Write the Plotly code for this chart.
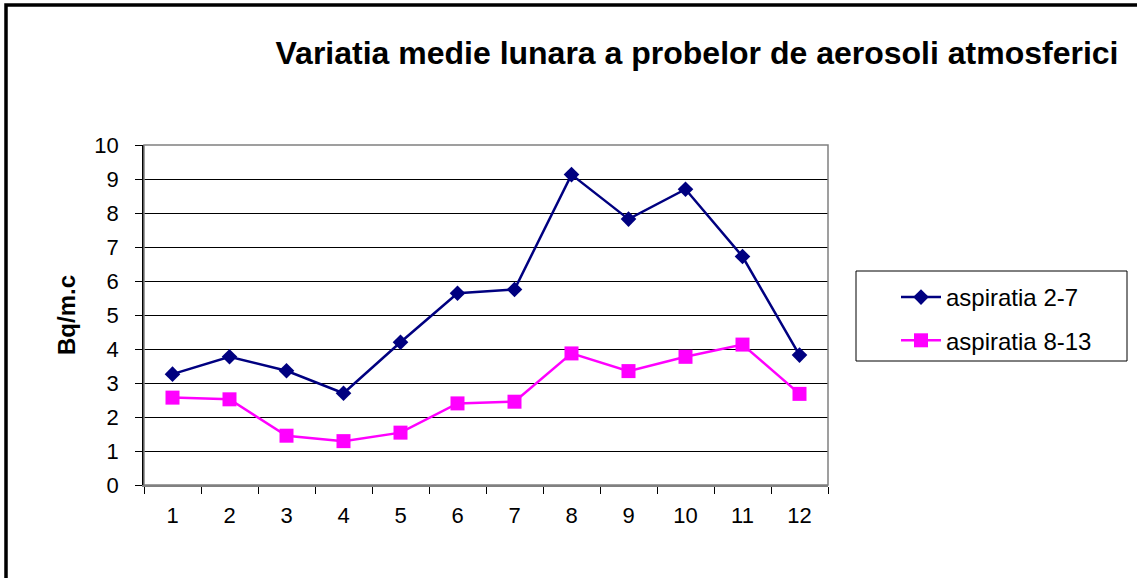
import plotly.graph_objects as go

# Monthly mean values (Bq/m.c)
months = ["1", "2", "3", "4", "5", "6", "7", "8", "9", "10", "11", "12"]
aspiratia_2_7 = [3.26, 3.77, 3.36, 2.70, 4.20, 5.64, 5.75, 9.13, 7.82, 8.70, 6.72, 3.82]
aspiratia_8_13 = [2.57, 2.52, 1.45, 1.29, 1.54, 2.40, 2.45, 3.87, 3.35, 3.77, 4.13, 2.68]

title_text = "Variatia medie lunara a probelor de aerosoli atmosferici"
y_title = "Bq/m.c"

FONT = "Liberation Sans, Arial, sans-serif"
W, H = 1137, 578
L, R, T, B = 144, 828, 145, 485  # plot area in pixels

def px_to_paper_x(px):
    return (px - L) / (R - L)

def px_to_paper_y(py):
    return (B - py) / (B - T)

fig = go.Figure()
fig.add_trace(go.Scatter(
    x=months, y=aspiratia_2_7, name="aspiratia 2-7", mode="lines+markers",
    line=dict(color="#000080", width=2.5),
    marker=dict(symbol="diamond", size=12, color="#000080"),
    legendgroup="a",
))
fig.add_trace(go.Scatter(
    x=months, y=aspiratia_8_13, name="aspiratia 8-13", mode="lines+markers",
    line=dict(color="#FF00FF", width=2.5),
    marker=dict(symbol="square", size=14, color="#FF00FF"),
    legendgroup="b",
))

shapes = [
    # outer chart frame
    dict(type="rect", xref="paper", yref="paper",
         x0=px_to_paper_x(6), x1=px_to_paper_x(1300),
         y0=px_to_paper_y(700), y1=px_to_paper_y(5),
         line=dict(color="black", width=3.5), fillcolor="rgba(0,0,0,0)", layer="below"),
    # plot area border
    dict(type="rect", xref="paper", yref="paper", x0=0, x1=1, y0=0, y1=1,
         line=dict(color="#808080", width=1.5), fillcolor="rgba(0,0,0,0)", layer="above"),
    # legend box
    dict(type="rect", xref="paper", yref="paper",
         x0=px_to_paper_x(856), x1=px_to_paper_x(1127),
         y0=px_to_paper_y(361), y1=px_to_paper_y(271),
         line=dict(color="black", width=1), fillcolor="white", layer="below"),
]

fig.update_layout(
    width=W, height=H,
    margin=dict(l=L, r=W - R, t=T, b=H - B),
    paper_bgcolor="white", plot_bgcolor="white",
    font=dict(family=FONT, color="black", size=22),
    title=dict(text=f"<b>{title_text}</b>", x=697 / W, xref="container", xanchor="center",
               y=1 - 53 / H, yref="container", yanchor="middle",
               font=dict(size=32, family=FONT, color="black")),
    xaxis=dict(
        type="category", range=[-0.5, 11.5], tickson="boundaries", ticks="outside",
        ticklen=7, tickcolor="black", showgrid=False, showline=True, linecolor="#808080",
        linewidth=1.5, tickfont=dict(size=22), zeroline=False, ticklabelstandoff=10,
    ),
    yaxis=dict(
        range=[0, 10], dtick=1, ticks="outside", ticklen=7, tickcolor="black",
        showgrid=True, gridcolor="black", gridwidth=1, showline=True,
        linecolor="black", linewidth=1.5, zeroline=False, tickfont=dict(size=22),
        ticklabelstandoff=12,
    ),
    legend=dict(
        x=px_to_paper_x(896), y=px_to_paper_y(275), xanchor="left", yanchor="top",
        bgcolor="rgba(0,0,0,0)", borderwidth=0, font=dict(size=24),
        traceorder="grouped", tracegroupgap=9, itemwidth=40,
    ),
    shapes=shapes,
    annotations=[dict(
        text=f"<b>{y_title}</b>", xref="paper", yref="paper",
        x=px_to_paper_x(66), y=0.5, textangle=-90, showarrow=False,
        xanchor="center", yanchor="middle", font=dict(size=24, family=FONT),
    )],
)

fig.write_html("out.html")
